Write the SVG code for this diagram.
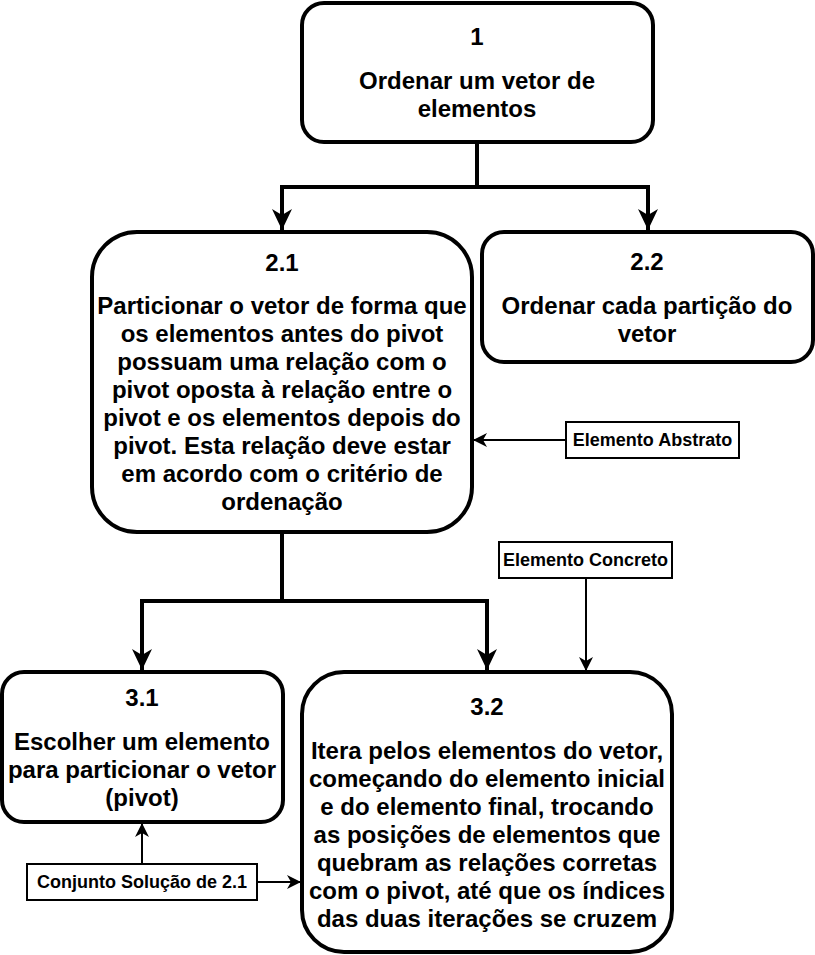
<svg xmlns="http://www.w3.org/2000/svg" width="815" height="955" viewBox="0 0 815 955">
<style>
.box{fill:#fff;stroke:#000;stroke-width:4}
.lbl{fill:#fff;stroke:#000;stroke-width:2}
.t{font-family:"Liberation Sans",Arial,sans-serif;font-weight:bold;font-size:24px;text-anchor:middle;fill:#000}
.s{font-family:"Liberation Sans",Arial,sans-serif;font-weight:bold;font-size:18px;text-anchor:middle;fill:#000}
.c{fill:none;stroke:#000;stroke-width:4}
.c2{fill:none;stroke:#000;stroke-width:2}
</style>
<defs>
<marker id="big" markerUnits="userSpaceOnUse" markerWidth="24" markerHeight="24" viewBox="-22 -12 24 24" refX="0" refY="0" orient="auto">
<path d="M0,0 L-21,-10 L-15,0 L-21,10 Z" fill="#000"/>
</marker>
<marker id="sm" markerUnits="userSpaceOnUse" markerWidth="18" markerHeight="18" viewBox="-16 -9 18 18" refX="0" refY="0" orient="auto">
<path d="M0,0 L-14,-7 L-10,0 L-14,7 Z" fill="#000"/>
</marker>
</defs>
<g id="connectors">
<path class="c" d="M477,142 V187 H282 V230" marker-end="url(#big)"/>
<path class="c" d="M477,187 H648 V230" marker-end="url(#big)"/>
<path class="c" d="M282,532 V601 H142 V670" marker-end="url(#big)"/>
<path class="c" d="M282,601 H487 V670" marker-end="url(#big)"/>
<path class="c2" d="M566,440 H473" marker-end="url(#sm)"/>
<path class="c2" d="M586,578 V671" marker-end="url(#sm)"/>
<path class="c2" d="M142,864 V823" marker-end="url(#sm)"/>
<path class="c2" d="M257,882 H301" marker-end="url(#sm)"/>
</g>
<g id="n1">
<rect class="box" x="302" y="3" width="351" height="139" rx="22"/>
<text class="t" x="477" y="45">1</text>
<text class="t" x="477" y="89">Ordenar um vetor de</text>
<text class="t" x="477" y="117">elementos</text>
</g>
<g id="n21">
<rect class="box" x="92" y="232" width="380" height="300" rx="45"/>
<text class="t" x="282" y="271">2.1</text>
<text class="t" x="282" y="314">Particionar o vetor de forma que</text>
<text class="t" x="282" y="342">os elementos antes do pivot</text>
<text class="t" x="282" y="370">possuam uma relação com o</text>
<text class="t" x="282" y="398">pivot oposta à relação entre o</text>
<text class="t" x="282" y="426">pivot e os elementos depois do</text>
<text class="t" x="282" y="454">pivot. Esta relação deve estar</text>
<text class="t" x="282" y="482">em acordo com o critério de</text>
<text class="t" x="282" y="510">ordenação</text>
</g>
<g id="n22">
<rect class="box" x="482" y="232" width="331" height="130" rx="22"/>
<text class="t" x="647" y="270">2.2</text>
<text class="t" x="647" y="314">Ordenar cada partição do</text>
<text class="t" x="647" y="342">vetor</text>
</g>
<g id="n31">
<rect class="box" x="2" y="672" width="281" height="150" rx="22"/>
<text class="t" x="142" y="706">3.1</text>
<text class="t" x="142" y="750">Escolher um elemento</text>
<text class="t" x="142" y="778">para particionar o vetor</text>
<text class="t" x="142" y="806">(pivot)</text>
</g>
<g id="n32">
<rect class="box" x="302" y="672" width="370" height="280" rx="42"/>
<text class="t" x="487" y="715">3.2</text>
<text class="t" x="487" y="759">Itera pelos elementos do vetor,</text>
<text class="t" x="487" y="787">começando do elemento inicial</text>
<text class="t" x="487" y="815">e do elemento final, trocando</text>
<text class="t" x="487" y="843">as posições de elementos que</text>
<text class="t" x="487" y="871">quebram as relações corretas</text>
<text class="t" x="487" y="899">com o pivot, até que os índices</text>
<text class="t" x="487" y="927">das duas iterações se cruzem</text>
</g>
<g id="abstrato">
<rect class="lbl" x="566" y="422" width="173" height="36"/>
<text class="s" x="652.5" y="446">Elemento Abstrato</text>
</g>
<g id="concreto">
<rect class="lbl" x="499" y="542" width="173" height="36"/>
<text class="s" x="585.5" y="566">Elemento Concreto</text>
</g>
<g id="conjunto">
<rect class="lbl" x="27" y="864" width="230" height="36"/>
<text class="s" x="142" y="888">Conjunto Solução de 2.1</text>
</g>
</svg>
